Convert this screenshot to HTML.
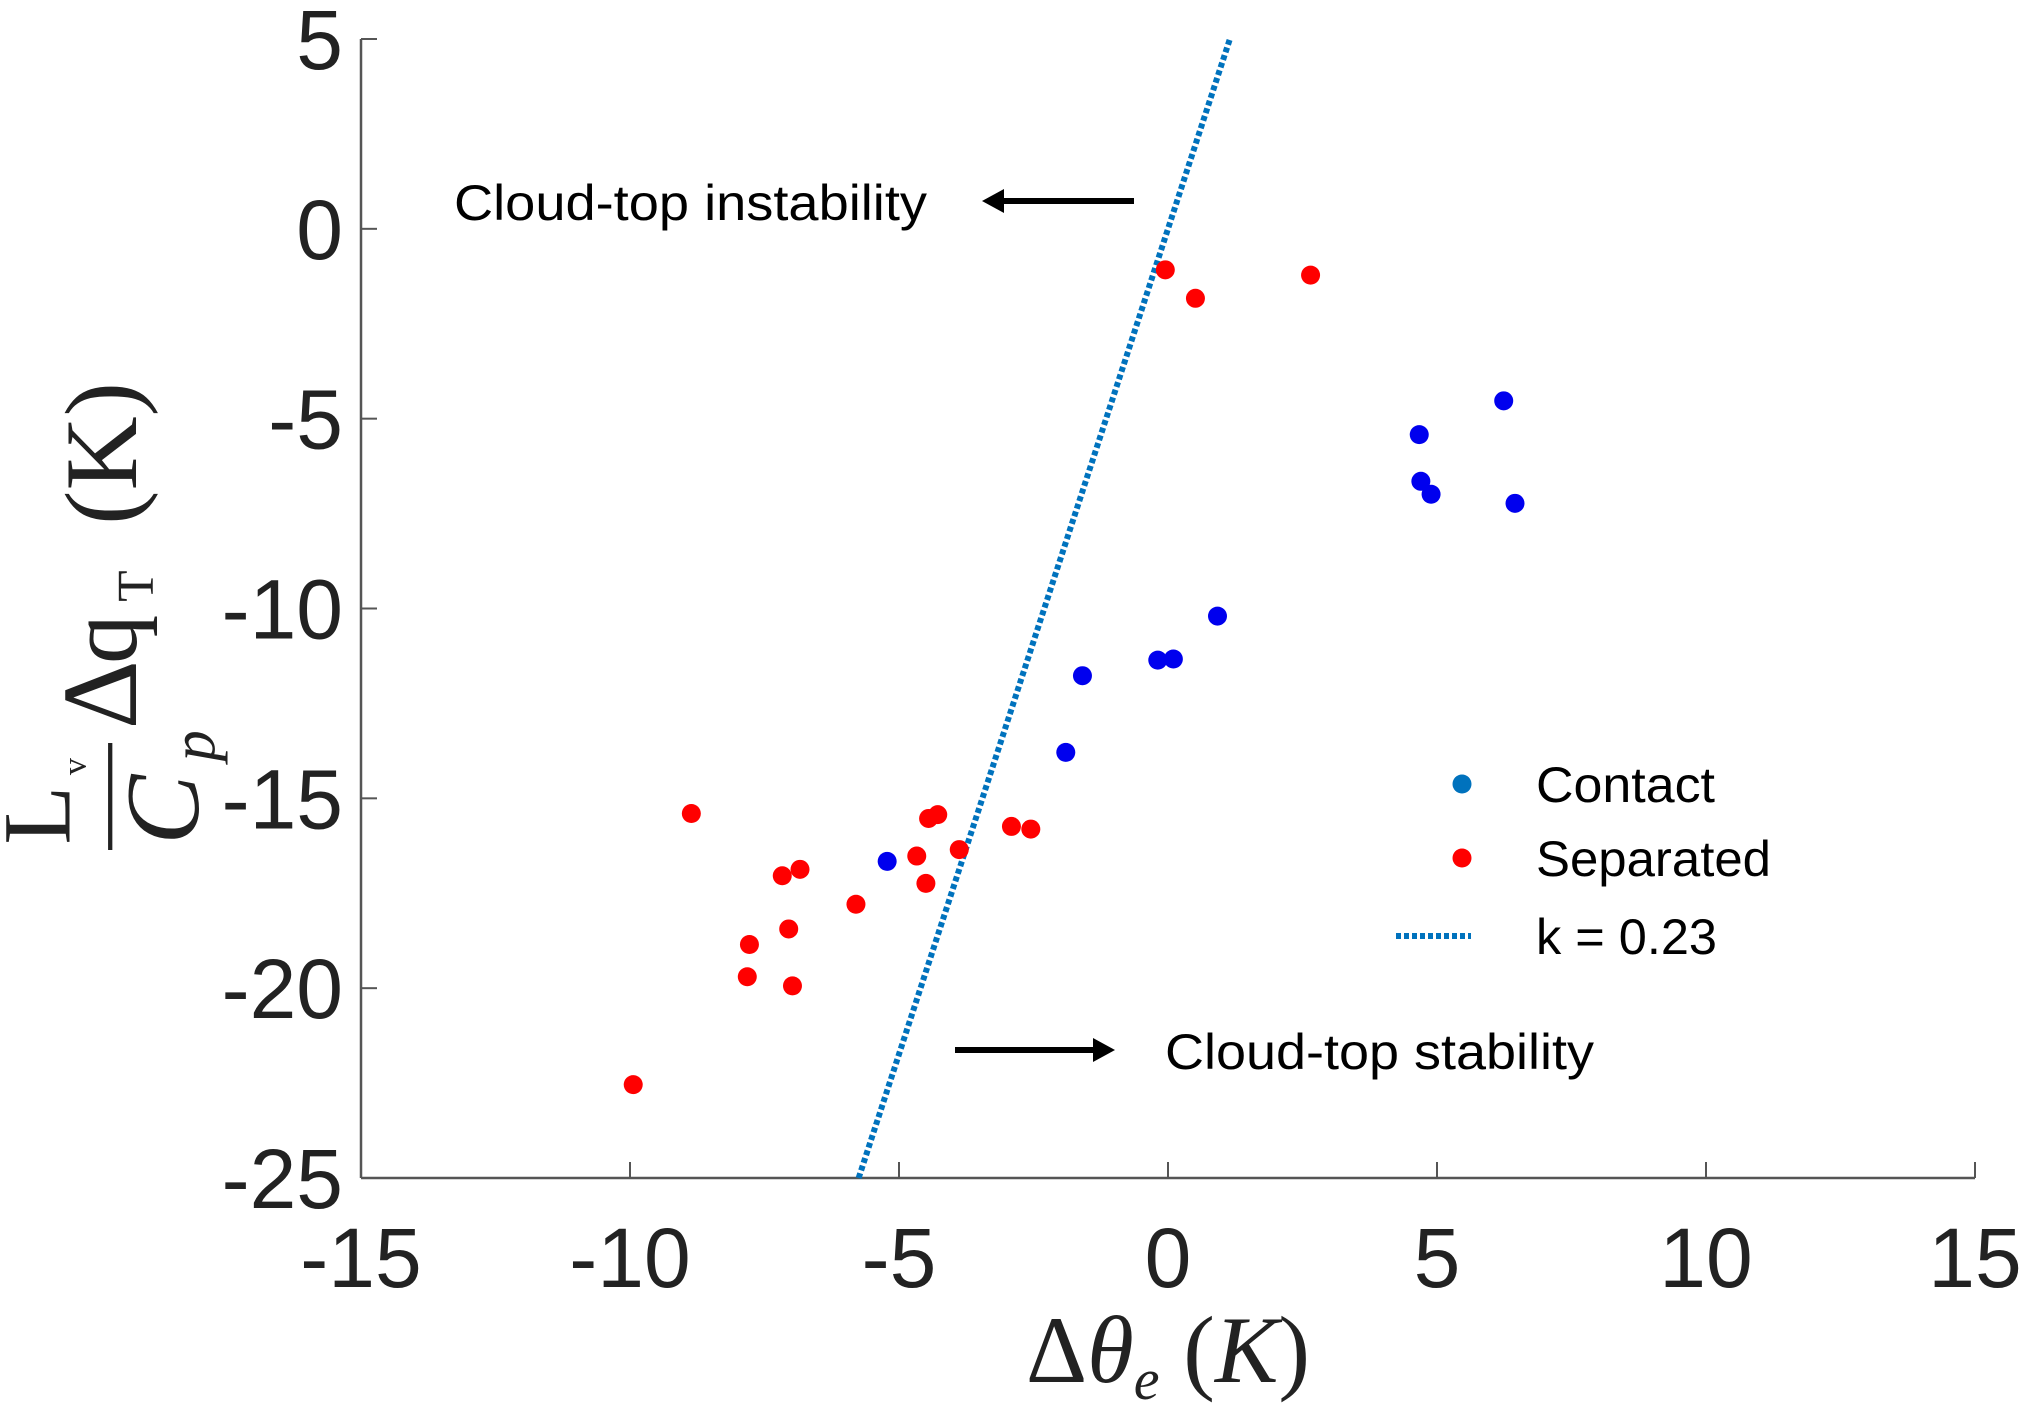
<!DOCTYPE html>
<html><head><meta charset="utf-8"><style>
html,body{margin:0;padding:0;background:#fff;}
svg{display:block;}
</style></head><body>
<svg id="chart" width="2032" height="1408" viewBox="0 0 2032 1408" xmlns="http://www.w3.org/2000/svg">
<g id="axes"></g>
<g id="marks"></g>
<g transform="translate(0,391) scale(1.07) translate(0,-391) rotate(-90)" font-family="'Liberation Serif', serif" fill="#222">
  <text x="-815" y="65" font-size="90">L</text>
  <text x="-750" y="80" font-size="32">v</text>
  <line x1="-820" y1="103" x2="-720" y2="103" stroke="#222" stroke-width="4"/>
  <text x="-815" y="185" font-size="98" font-style="italic">C</text>
  <text x="-737" y="200" font-size="58" font-style="italic">p</text>
  <text x="-707" y="127" font-size="100">Δ</text>
  <text x="-646" y="127" font-size="92">q</text>
  <text x="-588" y="143" font-size="48">T</text>
  <text x="-516" y="127" font-size="96">(K)</text>
</g>
<text x="1168" y="1382" text-anchor="middle" font-family="'Liberation Serif', serif" font-size="95" fill="#222">Δ<tspan font-style="italic">θ</tspan><tspan font-style="italic" font-size="58" dy="17">e</tspan><tspan dy="-17"> (</tspan><tspan font-style="italic">K</tspan>)</text>
<text x="454" y="220" font-family="'Liberation Sans', sans-serif" font-size="50" textLength="473" lengthAdjust="spacingAndGlyphs" fill="#000">Cloud-top instability</text>
<g>
  <line x1="1000" y1="201" x2="1134" y2="201" stroke="#000" stroke-width="6"/>
  <polygon points="982,201 1004,189 1004,213" fill="#000"/>
</g>
<text x="1165" y="1069" font-family="'Liberation Sans', sans-serif" font-size="50" textLength="429" lengthAdjust="spacingAndGlyphs" fill="#000">Cloud-top stability</text>
<g>
  <line x1="955" y1="1050" x2="1095" y2="1050" stroke="#000" stroke-width="6"/>
  <polygon points="1115,1050 1093,1038 1093,1062" fill="#000"/>
</g>
<g font-family="'Liberation Sans', sans-serif" font-size="50" fill="#000">
  <g><circle cx="1462" cy="784" r="9.5" fill="#0072BD"/><text x="1536" y="802" textLength="179" lengthAdjust="spacingAndGlyphs">Contact</text></g>
  <g><circle cx="1462" cy="858" r="9.5" fill="#ff0000"/><text x="1536" y="876" textLength="235" lengthAdjust="spacingAndGlyphs">Separated</text></g>
  <g><line x1="1396" y1="936" x2="1471" y2="936" stroke="#0072BD" stroke-width="6" stroke-dasharray="5,3"/><text x="1536" y="954" textLength="181" lengthAdjust="spacingAndGlyphs">k = 0.23</text></g>
</g>
</svg>
<script>
const xTicks = [-15, -10, -5, 0, 5, 10, 15];
const yTicks = [5, 0, -5, -10, -15, -20, -25];
const sepX = [-9.94, -8.86, -7.78, -7.82, -7.17, -7.05, -6.84, -6.98, -5.80, -4.67, -4.50, -4.45, -4.28, -3.88, -2.91, -2.55, -0.05, 0.51, 2.65];
const sepY = [-22.54, -15.40, -18.85, -19.70, -17.04, -18.44, -16.87, -19.94, -17.79, -16.52, -17.24, -15.53, -15.43, -16.35, -15.74, -15.81, -1.08, -1.83, -1.22];
const conX = [-5.22, -1.90, -1.59, -0.19, 0.10, 0.92, 4.67, 4.70, 4.89, 6.24, 6.45];
const conY = [-16.66, -13.79, -11.77, -11.36, -11.33, -10.20, -5.42, -6.65, -6.99, -4.53, -7.23];
const kSlope = [0.23];
const lineY = [-25, 5];

const NS = 'http://www.w3.org/2000/svg';
const X0 = 361, X1 = 1975, Y0 = 1178, Y1 = 39;
const xS = v => X0 + (v + 15) / 30 * (X1 - X0);
const yS = v => Y0 - (v + 25) / 30 * (Y0 - Y1);
function mk(tag, attrs, parent) {
  const e = document.createElementNS(NS, tag);
  for (const k in attrs) e.setAttribute(k, attrs[k]);
  parent.appendChild(e);
  return e;
}
const axes = document.getElementById('axes');
const marks = document.getElementById('marks');
const xl = mk('line', {x1: X0, y1: Y0, x2: X1, y2: Y0, stroke: '#555', 'stroke-width': 2.5}, axes);


const yl = mk('line', {x1: X0, y1: Y0, x2: X0, y2: Y1, stroke: '#555', 'stroke-width': 2.5}, axes);


xTicks.forEach(v => {
  const t = mk('line', {x1: xS(v), y1: Y0, x2: xS(v), y2: Y0 - 16, stroke: '#555', 'stroke-width': 2}, axes);
  
  
  const l = mk('text', {x: xS(v), y: 1287, 'text-anchor': 'middle', 'font-family': "'Liberation Sans', sans-serif", 'font-size': 84, fill: '#222'}, axes);
  l.textContent = v;
  
  
});
yTicks.forEach(v => {
  const t = mk('line', {x1: X0, y1: yS(v), x2: X0 + 16, y2: yS(v), stroke: '#555', 'stroke-width': 2}, axes);
  
  
  const l = mk('text', {x: 343, y: yS(v) + 30, 'text-anchor': 'end', 'font-family': "'Liberation Sans', sans-serif", 'font-size': 84, fill: '#222'}, axes);
  l.textContent = v;
  
  
});
const fl = mk('line', {x1: xS(kSlope[0] * lineY[0]), y1: yS(lineY[0]), x2: xS(kSlope[0] * lineY[1]), y2: yS(lineY[1]), stroke: '#0072BD', 'stroke-width': 6, 'stroke-dasharray': '5,3'}, marks);


sepX.forEach((v, i) => {
  const c = mk('circle', {cx: xS(v), cy: yS(sepY[i]), r: 9.5, fill: '#ff0000'}, marks);
  
  
});
conX.forEach((v, i) => {
  const c = mk('circle', {cx: xS(v), cy: yS(conY[i]), r: 9.5, fill: '#0000ee'}, marks);
  
  
});
</script>
</body></html>
